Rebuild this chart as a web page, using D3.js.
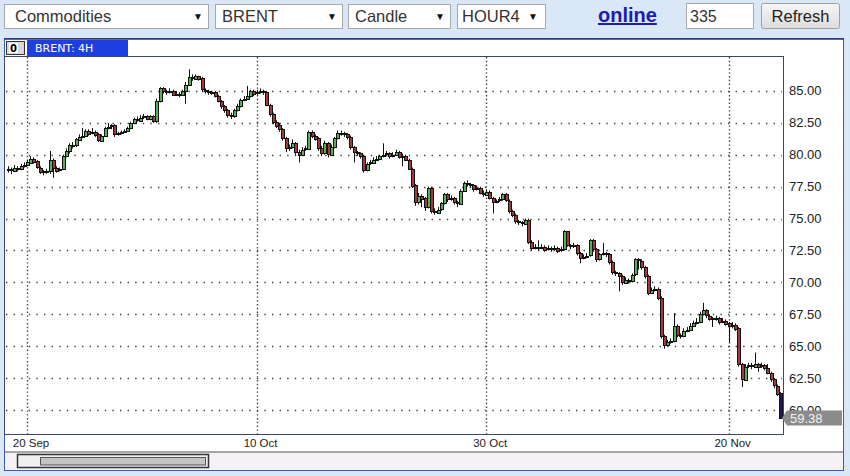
<!DOCTYPE html>
<html><head><meta charset="utf-8">
<script src="https://cdn.jsdelivr.net/npm/d3@7"></script>
<style>body{margin:0;background:#d9e7f7;} svg{display:block}</style>
</head><body><svg id="c" width="850" height="476"></svg>
<script>
// ---- data (BRENT 4H candles) ----
const opens=[78.8,78.9,78.8,79.0,78.9,79.1,79.2,79.4,79.7,79.5,
79.0,78.7,78.6,78.7,79.6,79.0,78.8,78.9,79.9,80.3,
80.8,80.7,81.2,81.4,81.5,81.9,81.7,81.8,81.6,81.1,
81.5,82.1,82.2,82.3,81.6,81.7,81.8,81.9,82.1,82.5,
82.8,82.7,82.9,83.0,82.8,83.0,82.6,84.2,85.2,85.0,
84.9,85.0,84.7,84.8,84.7,85.0,85.5,86.1,86.0,86.2,
86.0,85.1,85.0,84.9,84.9,84.6,84.2,83.8,83.5,83.1,
83.0,83.5,83.8,84.3,84.4,84.6,85.0,84.8,84.9,85.0,
84.9,83.9,83.2,82.6,82.3,82.0,81.3,80.5,80.6,80.9,
80.2,80.0,80.4,80.5,81.8,81.5,81.3,80.5,80.1,80.9,
80.0,80.6,81.3,81.7,81.7,81.6,81.4,80.6,80.2,80.1,
79.9,78.8,79.3,79.4,79.6,79.7,79.9,80.0,80.1,79.9,
80.0,80.2,79.8,79.9,79.6,78.9,77.6,76.3,76.8,76.6,
75.9,77.4,75.6,75.5,75.7,76.2,76.9,76.5,76.6,76.3,
76.2,77.2,77.8,77.7,77.6,77.3,77.4,77.0,76.9,77.1,
76.6,76.3,76.4,76.5,76.9,76.4,75.6,75.3,74.8,74.7,
74.6,74.9,73.2,72.7,72.8,72.7,72.8,72.6,72.7,72.6,
72.7,72.5,72.6,74.0,72.9,72.8,72.9,72.3,71.9,72.0,
72.1,73.3,72.6,71.8,72.2,72.3,72.2,71.6,70.8,70.7,
70.5,70.0,70.2,70.1,70.6,71.8,71.7,71.2,70.5,69.2,
69.4,69.5,68.8,65.8,65.1,65.3,65.4,66.6,65.9,65.8,
66.2,66.3,66.6,66.8,66.9,67.5,67.8,67.4,67.2,67.1,
67.2,66.9,67.0,66.8,66.6,66.7,66.4,63.6,62.4,63.4,
63.5,63.4,63.6,63.4,63.5,63.3,62.9,62.4,61.9,61.3];
const highs=[79.1,79.0,79.2,79.1,79.3,79.4,79.6,79.9,79.8,79.6,
79.1,78.8,78.9,80.3,79.7,79.1,79.0,80.0,80.5,80.9,
81.0,81.3,81.6,82.1,82.0,82.0,82.1,81.9,81.7,81.6,
82.2,82.5,82.4,82.4,81.8,81.9,82.0,82.2,82.6,82.9,
83.0,83.1,83.2,83.1,83.1,83.1,84.4,85.3,85.3,85.1,
85.2,85.1,85.0,84.9,85.1,85.7,86.7,86.3,86.3,86.2,
86.1,85.2,85.1,85.0,85.0,84.7,84.3,83.9,83.6,83.3,
83.6,84.0,84.4,84.6,85.4,85.1,85.1,85.1,85.2,85.1,
85.0,84.0,83.3,82.7,82.5,82.1,81.4,80.8,81.2,81.0,
80.4,80.6,80.7,81.9,81.9,81.6,81.4,80.7,81.1,81.0,
80.8,81.4,81.9,81.9,81.8,81.7,81.5,80.7,80.3,80.2,
80.0,79.4,79.6,79.8,79.9,80.0,80.9,80.3,80.2,80.2,
80.4,80.3,80.1,80.0,79.7,79.0,77.7,77.0,76.9,76.7,
77.5,77.5,75.8,75.9,76.3,77.0,77.0,76.8,76.7,76.4,
77.3,77.9,78.0,77.8,77.7,77.6,77.5,77.2,77.3,77.2,
76.7,76.5,76.7,77.0,77.0,76.5,75.7,75.4,74.9,74.8,
75.0,75.0,73.3,73.0,73.3,73.0,72.9,72.9,72.8,72.9,
72.8,72.8,74.1,74.0,73.0,73.1,73.0,72.4,72.2,72.3,
73.4,73.4,72.7,72.3,73.1,72.4,72.3,71.7,70.9,70.8,
70.6,70.4,70.3,70.7,71.9,71.9,71.8,71.3,70.6,69.6,
69.7,69.6,68.9,65.9,65.5,65.6,67.6,66.7,66.0,66.4,
66.5,66.8,67.0,67.2,67.7,68.4,67.9,67.5,67.3,67.4,
67.3,67.2,67.1,66.9,66.9,66.8,66.5,63.7,63.6,63.7,
63.7,64.5,63.7,63.7,63.6,63.6,63.0,62.5,62.0,61.4];
const lows=[78.6,78.5,78.7,78.7,78.8,79.0,79.1,79.3,79.3,78.9,
78.5,78.4,78.5,78.5,78.2,78.6,78.7,78.8,79.8,80.1,
80.5,80.6,81.1,81.3,81.4,81.5,81.6,81.4,81.0,81.0,
81.4,82.0,82.0,81.4,81.5,81.6,81.7,81.8,82.0,82.4,
82.6,82.6,82.8,82.7,82.7,82.5,82.5,84.1,84.8,84.7,
84.8,84.6,84.6,84.5,84.6,84.0,85.4,85.8,85.9,85.8,
84.9,84.8,84.7,84.7,84.5,84.1,83.6,83.3,82.9,82.8,
82.9,83.4,83.7,84.2,84.3,84.5,84.6,84.7,84.8,84.7,
83.8,83.0,82.4,82.1,81.8,81.1,80.2,80.3,80.5,80.0,
79.4,79.9,80.3,80.4,81.3,81.1,80.3,79.9,80.0,79.8,
79.9,80.5,81.2,81.5,81.4,81.2,80.4,79.4,79.9,79.7,
78.6,78.7,79.2,79.3,79.5,79.6,79.8,79.9,79.7,79.8,
79.9,79.7,79.1,79.5,78.8,77.4,76.0,76.1,75.9,75.6,
75.8,75.4,75.3,75.4,75.6,76.1,76.3,76.4,76.1,75.9,
76.1,77.1,77.5,77.4,77.1,77.2,76.9,76.7,76.8,76.5,
75.4,76.2,76.3,76.4,76.3,75.4,75.1,74.6,74.5,74.4,
74.5,73.0,72.5,72.6,72.5,72.6,72.4,72.5,72.4,72.5,
72.3,72.4,72.5,72.8,72.6,72.7,72.1,71.5,71.8,71.9,
72.0,72.4,71.6,71.7,72.1,72.0,71.4,70.6,70.5,69.3,
69.8,69.9,69.9,70.0,70.5,71.0,71.0,70.3,69.0,69.1,
69.3,68.6,65.6,64.8,65.0,65.2,65.3,65.7,65.6,65.7,
66.1,66.2,66.5,66.7,66.8,67.4,67.2,67.0,66.5,67.0,
66.7,66.8,66.6,65.3,66.4,66.2,63.4,61.8,62.3,63.3,
63.2,63.3,63.0,63.3,63.1,62.8,62.2,61.7,61.1,59.3];
const closes=[78.9,78.8,79.0,78.9,79.1,79.2,79.4,79.7,79.5,79.0,
78.7,78.6,78.7,79.6,79.0,78.8,78.9,79.9,80.3,80.8,
80.7,81.2,81.4,81.5,81.9,81.7,81.8,81.6,81.1,81.5,
82.1,82.2,82.3,81.6,81.7,81.8,81.9,82.1,82.5,82.8,
82.7,82.9,83.0,82.8,83.0,82.6,84.2,85.2,85.0,84.9,
85.0,84.7,84.8,84.7,85.0,85.5,86.1,86.0,86.2,86.0,
85.1,85.0,84.9,84.9,84.6,84.2,83.8,83.5,83.1,83.0,
83.5,83.8,84.3,84.4,84.6,85.0,84.8,84.9,85.0,84.9,
83.9,83.2,82.6,82.3,82.0,81.3,80.5,80.6,80.9,80.2,
80.0,80.4,80.5,81.8,81.5,81.3,80.5,80.1,80.9,80.0,
80.6,81.3,81.7,81.7,81.6,81.4,80.6,80.2,80.1,79.9,
78.8,79.3,79.4,79.6,79.7,79.9,80.0,80.1,79.9,80.0,
80.2,79.8,79.9,79.6,78.9,77.6,76.3,76.8,76.6,75.9,
77.4,75.6,75.5,75.7,76.2,76.9,76.5,76.6,76.3,76.2,
77.2,77.8,77.7,77.6,77.3,77.4,77.0,76.9,77.1,76.6,
76.3,76.4,76.5,76.9,76.4,75.6,75.3,74.8,74.7,74.6,
74.9,73.2,72.7,72.8,72.7,72.8,72.6,72.7,72.6,72.7,
72.5,72.6,74.0,72.9,72.8,72.9,72.3,71.9,72.0,72.1,
73.3,72.6,71.8,72.2,72.3,72.2,71.6,70.8,70.7,70.5,
70.0,70.2,70.1,70.6,71.8,71.7,71.2,70.5,69.2,69.4,
69.5,68.8,65.8,65.1,65.3,65.4,66.6,65.9,65.8,66.2,
66.3,66.6,66.8,66.9,67.5,67.8,67.4,67.2,67.1,67.2,
66.9,67.0,66.8,66.6,66.7,66.4,63.6,62.4,63.4,63.5,
63.4,63.6,63.4,63.5,63.3,62.9,62.4,61.9,61.3,59.38];
const yTicks=[60,62.5,65,67.5,70,72.5,75,77.5,80,82.5,85];
const xTickIndex=[6,77,148,223];
const xTickLabels=["20 Sep","10 Oct","30 Oct","20 Nov"];
const lastPrice=59.38;
const menuLabels=["Commodities","BRENT","Candle","HOUR4"];
const chartTitle="BRENT: 4H";
const linkText="online";
const barsText="335";
const buttonText="Refresh";

// ---- layout ----
const W=850,H=476;
const P={l:4,r:784,t:56,b:434};
const svg=d3.select("#c");
const N=closes.length;

svg.append("rect").attr("width",W).attr("height",H).attr("fill","#d9e7f7");

// toolbar
const sans="'Liberation Sans', Arial, sans-serif";
const menuBoxes=[[4,208],[215,342],[348,450],[457,545]];
menuLabels.forEach((m,i)=>{
  const [x0,x1]=menuBoxes[i];
  svg.append("rect").attr("x",x0+0.5).attr("y",4.5).attr("width",x1-x0).attr("height",24)
    .attr("fill","#fff").attr("stroke","#a8a8a8");
  svg.append("text").attr("x",x0+(i===0?11:i===3?5:7)).attr("y",22).attr("font-family",sans)
    .attr("font-size",16.5).attr("fill","#333").text(m);
  svg.append("text").attr("x",x1-(i===3?17:15)).attr("y",20).attr("font-family",sans)
    .attr("font-size",10).attr("fill","#111").text("\u25BC");
});
svg.append("text").attr("x",598).attr("y",22).attr("font-family",sans).attr("font-weight","bold")
  .attr("font-size",20).attr("fill","#1c1cb4").attr("text-decoration","underline").text(linkText);
svg.append("rect").attr("x",686.5).attr("y",3.5).attr("width",67).attr("height",25)
  .attr("fill","#fff").attr("stroke","#a8a8a8");
svg.append("text").attr("x",690).attr("y",22).attr("font-family",sans).attr("font-size",16)
  .attr("fill","#333").text(barsText);
const grad=svg.append("defs").append("linearGradient").attr("id","btn").attr("x1",0).attr("x2",0).attr("y1",0).attr("y2",1);
grad.append("stop").attr("offset","0").attr("stop-color","#f6f6f6");
grad.append("stop").attr("offset","1").attr("stop-color","#dcdcdc");
svg.append("rect").attr("x",761.5).attr("y",3.5).attr("width",78).attr("height",25).attr("rx",2)
  .attr("fill","url(#btn)").attr("stroke","#a0a0a0");
svg.append("text").attr("x",800.5).attr("y",22).attr("text-anchor","middle").attr("font-family",sans)
  .attr("font-size",16.5).attr("fill","#222").text(buttonText);

// chart panel
svg.append("rect").attr("x",4.5).attr("y",38.5).attr("width",839).attr("height",432)
  .attr("fill","#fff").attr("stroke","#4058b8");
svg.append("line").attr("x1",4).attr("x2",844).attr("y1",39).attr("y2",39).attr("stroke","#2a3570").attr("stroke-width",1.5);
svg.append("rect").attr("x",5).attr("y",452).attr("width",838).attr("height",18).attr("fill","#f5f2f5");
svg.append("line").attr("x1",4).attr("x2",844).attr("y1",452).attr("y2",452).attr("stroke","#555").attr("stroke-width",1.2);
// title bar
svg.append("rect").attr("x",27).attr("y",40).attr("width",101).attr("height",16).attr("fill","#1e3ee0");
svg.append("rect").attr("x",6.5).attr("y",41.5).attr("width",18).attr("height",13).attr("fill","#d8d8d8").attr("stroke","#333");
svg.append("rect").attr("x",9).attr("y",43).attr("width",9).attr("height",10).attr("fill","#fff");
svg.append("text").attr("x",10).attr("y",52).attr("font-family","'DejaVu Sans'").attr("font-weight","bold")
  .attr("font-size",10).attr("fill","#000").text("0");
svg.append("text").attr("x",35).attr("y",52).attr("font-family","'DejaVu Sans', sans-serif")
  .attr("font-size",11).attr("fill","#fff").text(chartTitle);

// scales
const x=d3.scaleBand().domain(d3.range(N)).range([6,782]);
const xc=i=>x(i)+x.bandwidth()/2;
const y=d3.scaleLinear().domain([58.12,87.74]).range([P.b,P.t]);

// plot frame
svg.append("rect").attr("x",P.l+0.5).attr("y",P.t+0.5).attr("width",P.r-P.l-1).attr("height",P.b-P.t)
  .attr("fill","#fff").attr("stroke","#3c4470");

// grid
const g=svg.append("g");
g.selectAll("line.h").data(yTicks).join("line").attr("class","h")
  .attr("x1",6).attr("x2",782).attr("y1",d=>Math.round(y(d))+0.5).attr("y2",d=>Math.round(y(d))+0.5)
  .attr("stroke","#444").attr("stroke-width",1.4).attr("stroke-dasharray","1.4,6.2");
g.selectAll("line.v").data(xTickIndex).join("line").attr("class","v")
  .attr("x1",d=>Math.round(xc(d))+0.5).attr("x2",d=>Math.round(xc(d))+0.5)
  .attr("y1",P.t+1).attr("y2",P.b).attr("stroke","#444").attr("stroke-width",1.4).attr("stroke-dasharray","1.4,2.4");

// candles
const idx=d3.range(N);
const cg=svg.append("g");
cg.selectAll("line").data(idx).join("line")
  .attr("x1",i=>Math.round(xc(i))+0.5).attr("x2",i=>Math.round(xc(i))+0.5)
  .attr("y1",i=>y(highs[i])).attr("y2",i=>y(lows[i])).attr("stroke","#111").attr("stroke-width",1);
cg.selectAll("rect").data(idx).join("rect")
  .attr("x",i=>Math.round(xc(i))-0.5).attr("width",3)
  .attr("y",i=>Math.round(y(Math.max(opens[i],closes[i])))+0.5)
  .attr("height",i=>Math.max(1,Math.round(Math.abs(y(opens[i])-y(closes[i])))))
  .attr("fill",i=>i===N-1?"#1c1c66":(closes[i]>=opens[i]?"#5aae5a":"#a03c38"))
  .attr("stroke","#111").attr("stroke-width",1);

// y axis labels
svg.selectAll("text.yl").data(yTicks).join("text").attr("class","yl")
  .attr("x",789).attr("y",d=>y(d)+4.5).attr("font-family",sans).attr("font-size",13)
  .attr("fill","#222").text(d=>d3.format(".2f")(d));

// x axis labels
svg.selectAll("text.xl").data(xTickIndex).join("text").attr("class","xl")
  .attr("x",d=>xc(d)+4).attr("y",447).attr("text-anchor","middle").attr("font-family",sans)
  .attr("font-size",11.5).attr("fill","#222").text((d,i)=>xTickLabels[i]);

// last price marker
const ly=y(lastPrice);
svg.append("path").attr("d",`M782,${ly} L787,${ly-7.5} L842,${ly-7.5} L842,${ly+7.5} L787,${ly+7.5} Z`).attr("fill","#8c8c8c");
svg.append("text").attr("x",790).attr("y",ly+5).attr("font-family",sans).attr("font-size",13)
  .attr("fill","#f2f2f2").text(d3.format(".2f")(lastPrice));

// scrollbar
svg.append("rect").attr("x",17.5).attr("y",454.5).attr("width",191).attr("height",13)
  .attr("fill","#f0f0f0").attr("stroke","#333").attr("stroke-width",1.5);
svg.append("rect").attr("x",40.5).attr("y",457.5).attr("width",165).attr("height",7.5)
  .attr("fill","#c4c4c4").attr("stroke","#555");
</script></body></html>
